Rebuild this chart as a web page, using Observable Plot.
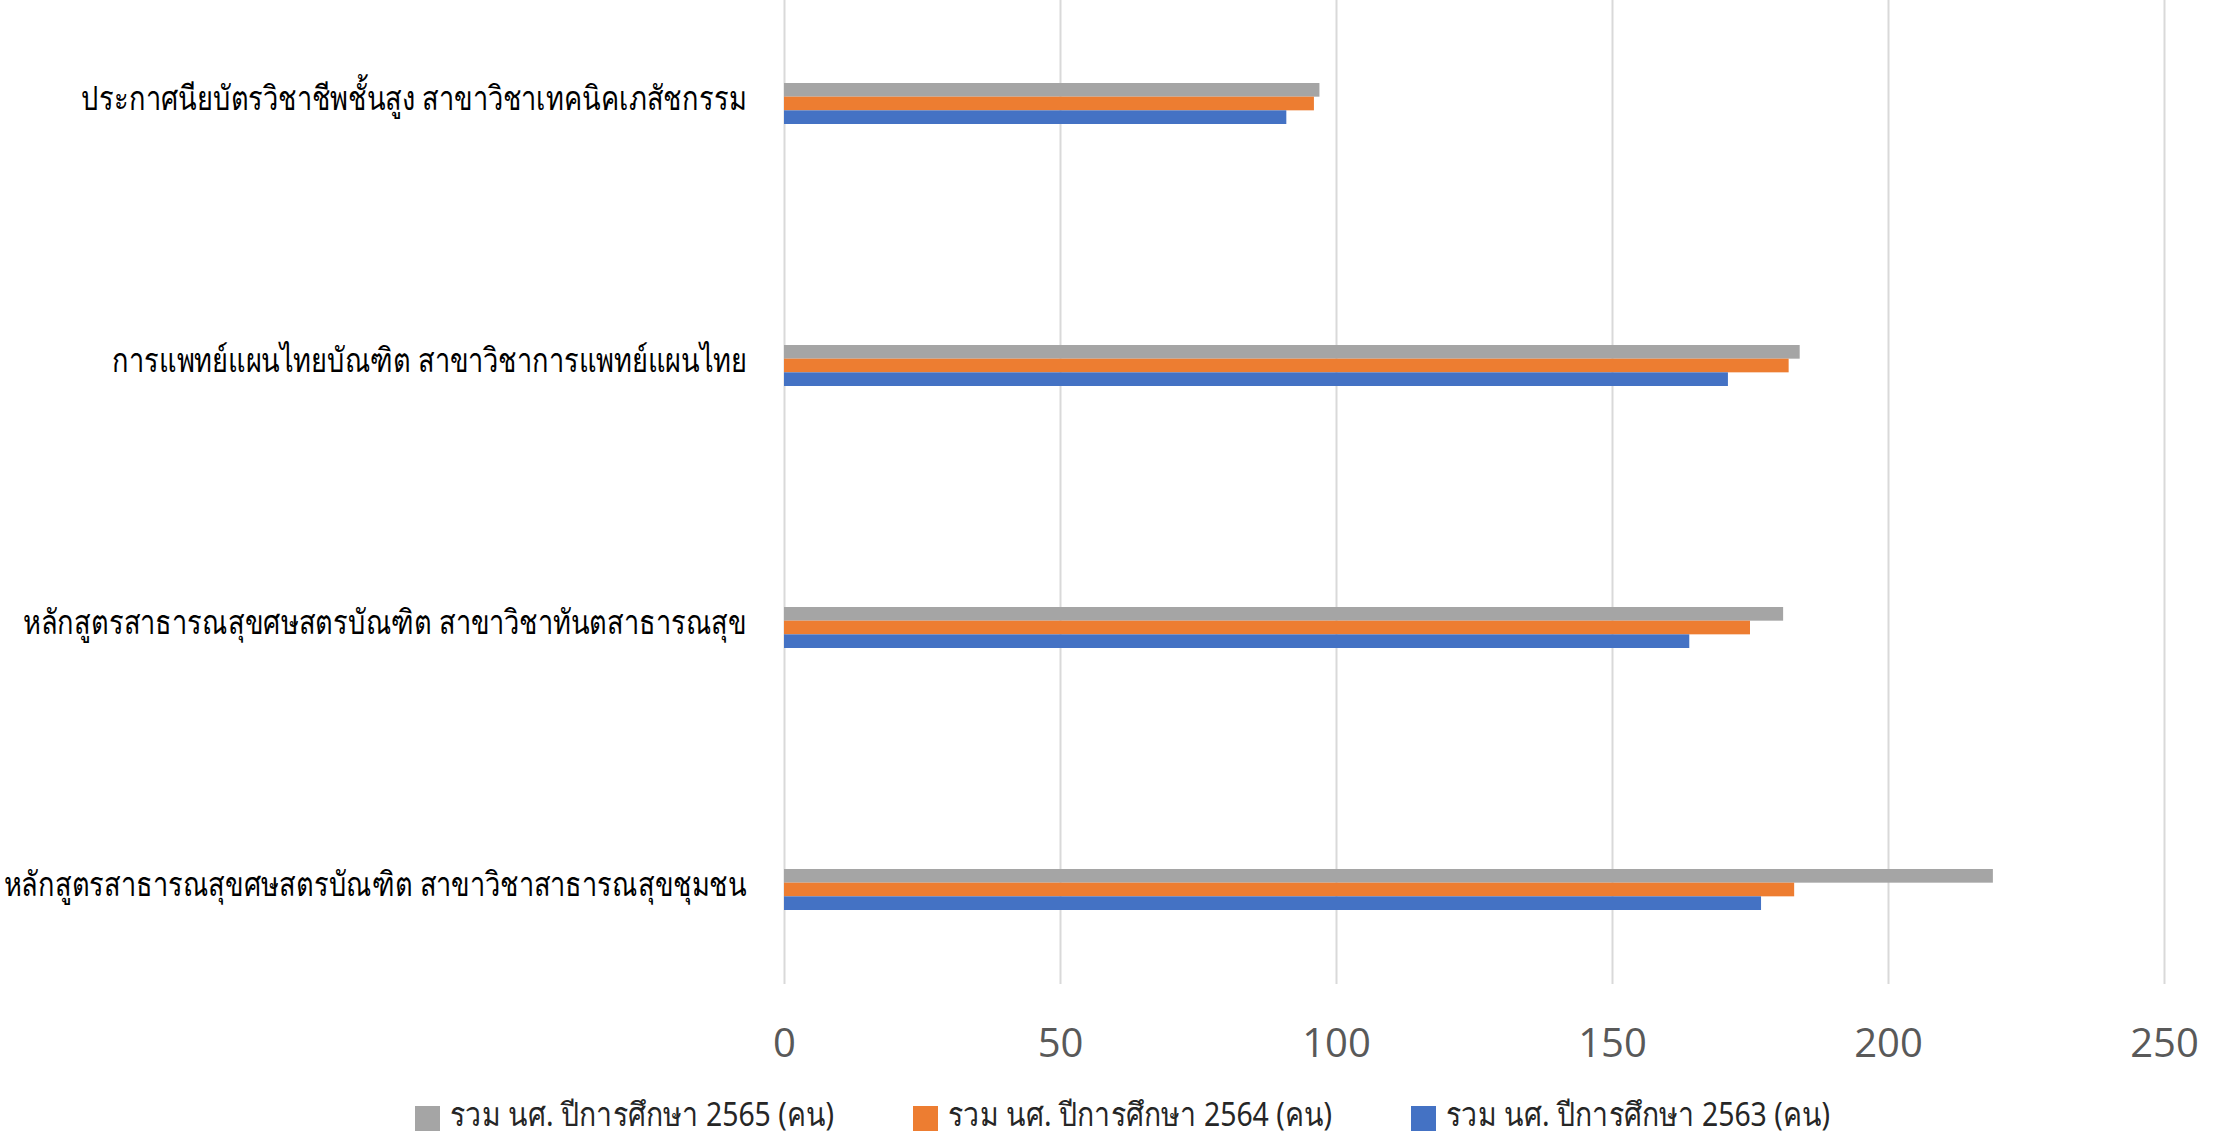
<!DOCTYPE html>
<html>
<head>
<meta charset="utf-8">
<script src="https://cdn.jsdelivr.net/npm/d3@7"></script>
<script src="https://cdn.jsdelivr.net/npm/@observablehq/plot@0.6"></script>
<style>
  html, body { margin: 0; padding: 0; background: #fff; }
  #wrap { width: 2224px; height: 1140px; position: relative; overflow: hidden; }
  #legend { position: absolute; left: 415px; top: 1094px; display: flex; font-family: "Noto Sans", "DejaVu Sans", sans-serif; font-size: 33px; line-height: 40px; color: #262626; }
  .item { display: flex; align-items: center; width: 498px; height: 40px; }
  .sw { width: 25px; height: 25px; margin-right: 10px; flex: none; position: relative; top: 4px; }
  .lt { display: inline-block; transform: scaleX(0.86); transform-origin: left center; white-space: nowrap; line-height: 40px; }
</style>
</head>
<body>
<div id="wrap">
  <div id="chart"></div>
  <div id="legend"></div>
</div>
<script>
const categories = [
  "ประกาศนียบัตรวิชาชีพชั้นสูง สาขาวิชาเทคนิคเภสัชกรรม",
  "การแพทย์แผนไทยบัณฑิต สาขาวิชาการแพทย์แผนไทย",
  "หลักสูตรสาธารณสุขศษสตรบัณฑิต สาขาวิชาทันตสาธารณสุข",
  "หลักสูตรสาธารณสุขศษสตรบัณฑิต สาขาวิชาสาธารณสุขชุมชน"
];
const seriesNames = [
  "รวม นศ. ปีการศึกษา 2565 (คน)",
  "รวม นศ. ปีการศึกษา 2564 (คน)",
  "รวม นศ. ปีการศึกษา 2563 (คน)"
];
const seriesColors = ["#A5A5A5", "#ED7D31", "#4472C4"];
const values2565 = [97, 184, 181, 219];
const values2564 = [96, 182, 175, 183];
const values2563 = [91, 171, 164, 177];
const xTicks = [0, 50, 100, 150, 200, 250];

const seriesValues = [values2565, values2564, values2563];
const data = [];
seriesNames.forEach((s, si) => categories.forEach((c, ci) => data.push({category: c, series: s, value: seriesValues[si][ci], si})));

const clusterH = 41;
const third = clusterH / 3;

const marks = [
  Plot.gridX(xTicks, {stroke: "#d9d9d9", strokeWidth: 2, strokeOpacity: 1})
];
seriesNames.forEach((s, si) => {
  marks.push(Plot.barX(data.filter(d => d.si === si), {
    x: "value", y: "category", fill: seriesColors[si],
    insetTop: third * si, insetBottom: third * (2 - si)
  }));
});
marks.push(Plot.axisX({ticks: xTicks, tickSize: 0, tickPadding: 44, fontSize: 40, fill: "#595959", label: null,
  fontFamily: "'Liberation Sans Narrow', 'Open Sans', sans-serif"}));
marks.push(Plot.axisY({tickSize: 0, tickPadding: 38, fontSize: 34, fill: "#000", label: null, dy: -5,
  fontFamily: "'Noto Sans', 'DejaVu Sans', sans-serif"}));

const chart = Plot.plot({
  width: 2224,
  height: 1090,
  marginLeft: 784,
  marginRight: 60,
  marginTop: 0,
  marginBottom: 106,
  style: {background: "#fff", overflow: "visible"},
  x: {domain: [0, 250]},
  y: {domain: categories, range: [-29.35, 1021.35], paddingInner: 0.844, paddingOuter: 0.422},
  marks
});
// condense the category labels horizontally, keeping their right edge fixed
d3.select(chart).selectAll("text").each(function() {
  if (categories.includes(this.textContent)) {
    const t = this.getAttribute("transform") || "";
    this.setAttribute("transform", t + " scale(0.8,1)");
  }
});
document.getElementById("chart").appendChild(chart);

const legend = document.getElementById("legend");
seriesNames.forEach((s, i) => {
  const item = document.createElement("div");
  item.className = "item";
  const sw = document.createElement("span");
  sw.className = "sw";
  sw.style.background = seriesColors[i];
  const t = document.createElement("span");
  t.className = "lt";
  t.textContent = s;
  item.appendChild(sw); item.appendChild(t);
  legend.appendChild(item);
});
</script>
</body>
</html>
